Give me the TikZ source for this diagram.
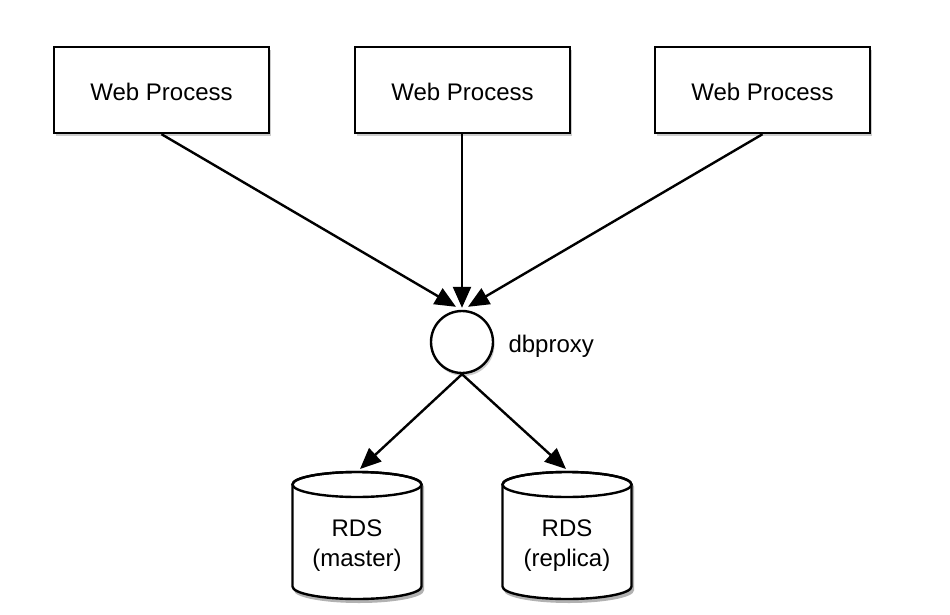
\documentclass[tikz,border=0pt]{standalone}
\usepackage{fontspec}
\setmainfont{Liberation Sans}
\usetikzlibrary{arrows.meta,shadows,backgrounds}
\begin{document}
\begin{tikzpicture}[x=1pt,y=-1pt,
  lbl/.style={font=\fontsize{24}{30}\selectfont},
  softshadow/.style={drop shadow={opacity=0.4, shadow xshift=1.5pt, shadow yshift=-3pt}},
  proc/.style={draw, line width=2.4pt, fill=white, minimum width=215pt, minimum height=86pt, inner sep=0pt, lbl, softshadow},
  hub/.style={circle, draw, line width=2.4pt, fill=white, minimum size=62pt, inner sep=0pt, softshadow},
  dbbody/.style={minimum width=129pt, minimum height=60pt, inner sep=0pt, align=center, lbl},
  conn/.style={line width=2.4pt, -{Triangle[length=21pt,width=18pt]}},
  cylline/.style={draw, line width=2.4pt, fill=white}
]
\useasboundingbox (0,0) rectangle (950,615);

% Web processes
\node[proc] (w1) at (161.5,90) {\raisebox{-10.6pt}[0pt][0pt]{Web Process}};
\node[proc] (w2) at (462.5,90) {\raisebox{-10.6pt}[0pt][0pt]{Web Process}};
\node[proc] (w3) at (762.5,90) {\raisebox{-10.6pt}[0pt][0pt]{Web Process}};

% proxy
\node[hub] (c) at (462,342) {};
\node[lbl, anchor=west] (lab) at (505,346) {dbproxy};

% databases (text nodes, cylinders drawn behind)
\node[dbbody] (m) at (357,546) {RDS\\(master)};
\node[dbbody] (r) at (567,546) {RDS\\(replica)};

\begin{scope}[on background layer]
\foreach \n in {m,r}{
  \begin{scope}[shift={(\n.center)}]
    \fill[black, opacity=0.3] (-63,44.5) -- (-63,-59.5) arc[start angle=180, end angle=0, x radius=65pt, y radius=12.5pt] -- (67,44.5) arc[start angle=0, end angle=-180, x radius=65pt, y radius=12.5pt] -- cycle;
    \path[cylline] (-64.5,40.5) -- (-64.5,-61.5) arc[start angle=180, end angle=0, x radius=64.5pt, y radius=12.5pt] -- (64.5,40.5) arc[start angle=0, end angle=-180, x radius=64.5pt, y radius=12.5pt] -- cycle;
    \draw[line width=2.4pt] (0,-61.5) ellipse [x radius=64.5pt, y radius=12.5pt];
  \end{scope}
}
\end{scope}

\coordinate (mtop) at ([xshift=3pt,yshift=77pt]m.center);
\coordinate (rtop) at ([xshift=-1pt,yshift=77pt]r.center);

% connectors
\draw[conn] (w1.south) -- ([xshift=-6pt,yshift=3pt]c.north);
\draw[conn] (w2.south -| c.north) -- ([yshift=2pt]c.north);
\draw[conn] (w3.south) -- ([xshift=6pt,yshift=3pt]c.north);
\draw[conn] (c.south) -- (mtop);
\draw[conn] (c.south) -- (rtop);
\end{tikzpicture}
\end{document}
